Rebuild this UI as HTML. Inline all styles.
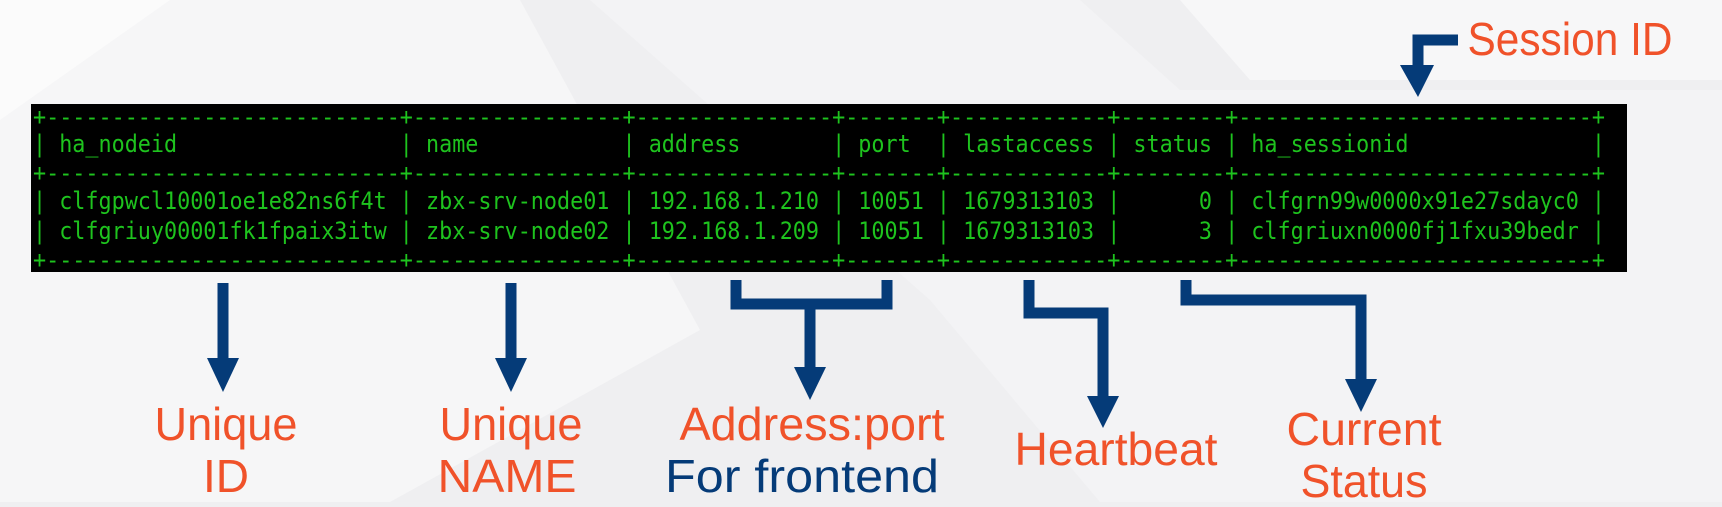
<!DOCTYPE html>
<html><head><meta charset="utf-8"><style>
html,body{margin:0;padding:0;}
body{width:1722px;height:502px;overflow:hidden;background:#efeff1;}
.t{white-space:pre;}
</style></head><body>
<svg width="1722" height="502" viewBox="0 0 1722 502" xmlns="http://www.w3.org/2000/svg">
<rect width="1722" height="502" fill="#efeff1"/>
<polygon points="0,0 520,0 700,330 390,502 0,502" fill="#f6f6f7"/>
<polygon points="0,0 170,0 0,120" fill="#fbfbfb"/>
<polygon points="590,0 1080,0 1180,90 1722,90 1722,502 1100,502 930,300" fill="#f3f3f5"/>
<polygon points="1180,0 1722,0 1722,80 1250,80" fill="#f7f7f8"/>
<rect x="31" y="104" width="1596" height="168" fill="#000"/>
<g font-family="'DejaVu Sans Mono','Liberation Mono',monospace" font-size="24" fill="#1ec31e">
<text class="t" x="33" y="125" textLength="1572" lengthAdjust="spacingAndGlyphs">+---------------------------+----------------+---------------+-------+------------+--------+---------------------------+</text>
<text class="t" x="33" y="152" textLength="1572" lengthAdjust="spacingAndGlyphs">| ha_nodeid                 | name           | address       | port  | lastaccess | status | ha_sessionid              |</text>
<text class="t" x="33" y="181" textLength="1572" lengthAdjust="spacingAndGlyphs">+---------------------------+----------------+---------------+-------+------------+--------+---------------------------+</text>
<text class="t" x="33" y="209" textLength="1572" lengthAdjust="spacingAndGlyphs">| clfgpwcl10001oe1e82ns6f4t | zbx-srv-node01 | 192.168.1.210 | 10051 | 1679313103 |      0 | clfgrn99w0000x91e27sdayc0 |</text>
<text class="t" x="33" y="239" textLength="1572" lengthAdjust="spacingAndGlyphs">| clfgriuy00001fk1fpaix3itw | zbx-srv-node02 | 192.168.1.209 | 10051 | 1679313103 |      3 | clfgriuxn0000fj1fxu39bedr |</text>
<text class="t" x="33" y="268" textLength="1572" lengthAdjust="spacingAndGlyphs">+---------------------------+----------------+---------------+-------+------------+--------+---------------------------+</text>
</g>
<g fill="none" stroke="#053b78" stroke-width="11">
<line x1="223" y1="283" x2="223" y2="362"/>
<line x1="511" y1="283" x2="511" y2="362"/>
<polyline points="736,280 736,304 887,304 887,280"/>
<line x1="810" y1="304" x2="810" y2="370"/>
<polyline points="1029,280 1029,313 1103,313 1103,400"/>
<polyline points="1186,280 1186,300 1361,300 1361,382"/>
<polyline points="1458,40 1418,40 1418,68"/>
</g>
<g fill="#053b78">
<polygon points="207,358 239,358 223,392"/>
<polygon points="495,358 527,358 511,392"/>
<polygon points="794,367 826,367 810,400"/>
<polygon points="1087,396 1119,396 1103,428"/>
<polygon points="1345,379 1377,379 1361,412"/>
<polygon points="1400,65 1434,65 1418,97"/>
</g>
<g font-family="'Liberation Sans',sans-serif" font-size="46" fill="#f0522a" text-anchor="middle">
<text x="226" y="440" textLength="143" lengthAdjust="spacingAndGlyphs">Unique</text>
<text x="226" y="492" textLength="46" lengthAdjust="spacingAndGlyphs">ID</text>
<text x="511" y="440" textLength="143" lengthAdjust="spacingAndGlyphs">Unique</text>
<text x="507" y="492" textLength="139" lengthAdjust="spacingAndGlyphs">NAME</text>
<text x="812" y="440" textLength="265" lengthAdjust="spacingAndGlyphs">Address:port</text>
<text x="802" y="492" fill="#053b78" textLength="274" lengthAdjust="spacingAndGlyphs">For frontend</text>
<text x="1116" y="465" textLength="203" lengthAdjust="spacingAndGlyphs">Heartbeat</text>
<text x="1364" y="445" textLength="155" lengthAdjust="spacingAndGlyphs">Current</text>
<text x="1364" y="497" textLength="127" lengthAdjust="spacingAndGlyphs">Status</text>
<text x="1570" y="55" textLength="205" lengthAdjust="spacingAndGlyphs">Session ID</text>
</g>
</svg>
</body></html>
